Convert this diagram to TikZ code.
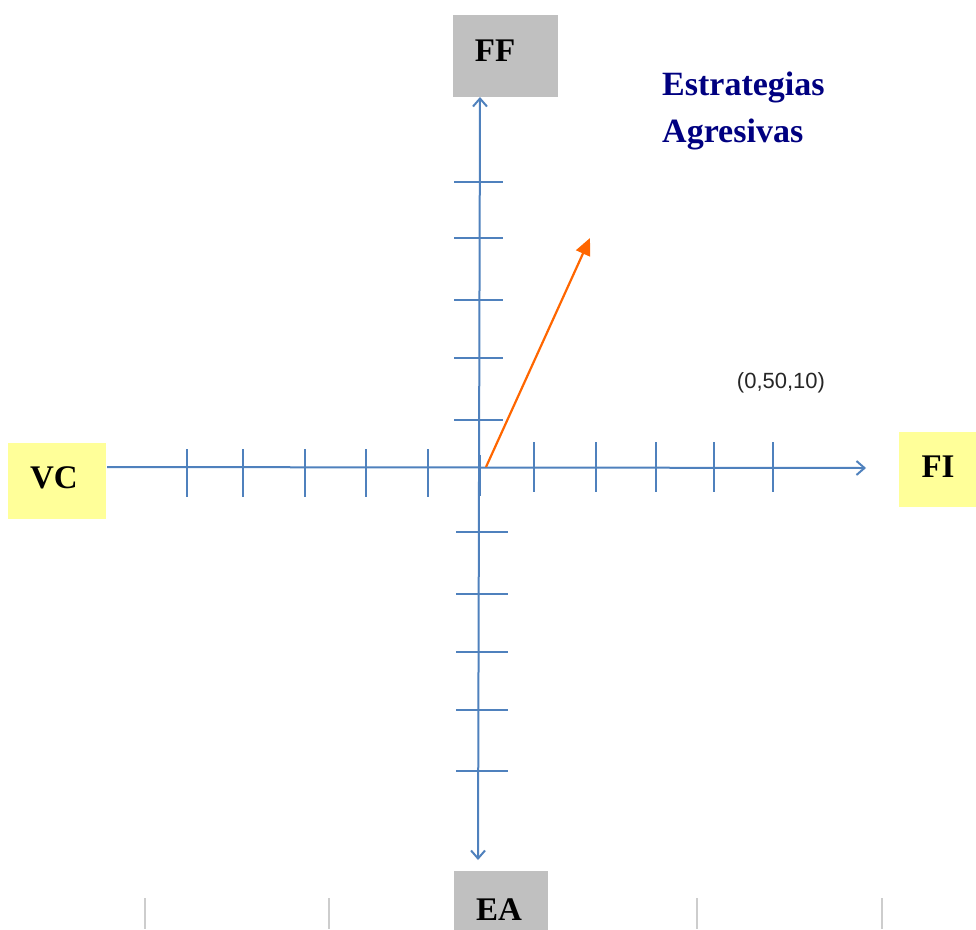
\documentclass[tikz,border=0pt]{standalone}
\usepackage{fontspec}
\setmainfont{Liberation Serif}
\newfontfamily\arialf{Liberation Sans}
\usetikzlibrary{arrows.meta}
\definecolor{axisblue}{RGB}{79,129,189}
\definecolor{boxgray}{RGB}{192,192,192}
\definecolor{boxyellow}{RGB}{255,255,153}
\definecolor{navyblue}{RGB}{0,0,128}
\definecolor{vecorange}{RGB}{255,102,0}
\definecolor{linegray}{RGB}{205,205,205}
\tikzset{
  graybox/.style={fill=boxgray, draw=none, inner sep=0pt},
  yellowbox/.style={fill=boxyellow, draw=none, inner sep=0pt},
  boxlabel/.style={inner sep=0pt, font=\fontsize{33}{36}\selectfont\bfseries},
  axisline/.style={draw=axisblue, line width=2pt, {Straight Barb[length=8pt,width=14pt]}-{Straight Barb[length=8pt,width=14pt]}},
  axisarrow/.style={draw=axisblue, line width=2pt, -{Straight Barb[length=8pt,width=14pt]}},
  tickmark/.style={draw=axisblue, line width=1.5pt},
  vecarrow/.style={draw=vecorange, line width=2.2pt, -{Triangle[length=17pt,width=15pt]}},
  titletext/.style={inner sep=0pt, anchor=base west, text=navyblue, font=\fontsize{34}{40}\selectfont\bfseries},
  graymark/.style={draw=linegray, line width=1.5pt}
}
\begin{document}
\begin{tikzpicture}[x=1pt,y=-1pt]
\useasboundingbox (0,0) rectangle (976,929);

% boxes
\node[graybox, minimum width=105pt, minimum height=82pt] (FFbox) at (505.5,56) {};
\node[graybox, minimum width=94pt, minimum height=62pt] (EAbox) at (501,902) {};
\node[yellowbox, minimum width=98pt, minimum height=76pt] (VCbox) at (57,481) {};
\node[yellowbox, minimum width=80pt, minimum height=75pt] (FIbox) at (939,469.5) {};

% box labels
\node[boxlabel] (FF) at (495,51) {FF};
\node[boxlabel] (EA) at (499,910) {EA};
\node[boxlabel] (VC) at (54,478) {VC};
\node[boxlabel] (FI) at (938,467) {FI};

% axis end points
\coordinate (ytop) at (480,97);
\coordinate (ybot) at (478,860);
\coordinate (xleft) at (107,467);
\coordinate (xright) at (866,468);
\coordinate (O) at (486,467);
\coordinate (vtip) at (590,238);

% axes
\draw[axisline] (ytop) -- (ybot);
\draw[axisarrow] (xleft) -- (xright);

% ticks on horizontal axis
\foreach \x in {187,243,305,366,428}
  \draw[tickmark] (\x,449) -- (\x,497);
\foreach \x in {534,596,656,714,773}
  \draw[tickmark] (\x,442) -- (\x,492);
% ticks on vertical axis
\foreach \y in {182,238,300,358,420}
  \draw[tickmark] (454,\y) -- (503,\y);
\foreach \y in {532,594,652,710,771}
  \draw[tickmark] (456,\y) -- (508,\y);
\draw[draw=axisblue, line width=3pt] (479,455) -- (479,496);

% vector
\draw[vecarrow] (O) -- (vtip);

% texts
\node[inner sep=0pt, font=\arialf\fontsize{22}{26}\selectfont, text=black!85] (coords) at (781,383) {(0,50,10)};
\node[titletext] (title1) at (662,95) {Estrategias};
\node[titletext] (title2) at (662,142) {Agresivas};

% bottom gray marks
\foreach \x in {145,329,697,882}
  \draw[graymark] (\x,898) -- (\x,929);
\end{tikzpicture}
\end{document}
